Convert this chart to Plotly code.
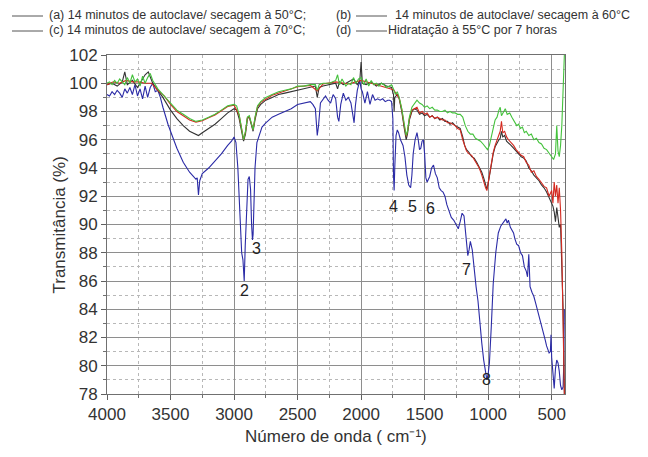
import plotly.graph_objects as go

# ---- Spectra: wavenumber (cm-1) and transmittance (%) ----
wn_d = [4000, 3980, 3960, 3940, 3920, 3900, 3880, 3860, 3840, 3820, 3800, 3780, 3760, 3740, 3720, 3700,
        3680, 3660, 3640, 3620, 3600, 3580, 3560, 3540, 3520, 3500, 3450, 3400, 3350, 3320, 3300, 3290,
        3280, 3270, 3250, 3200, 3150, 3100, 3050, 3020, 3000, 2985, 2970, 2955, 2940, 2930, 2920, 2912,
        2900, 2890, 2880, 2870, 2862, 2855, 2850, 2845, 2835, 2820, 2800, 2780, 2750, 2700, 2650, 2600,
        2550, 2500, 2450, 2400, 2380, 2360, 2345, 2335, 2320, 2300, 2280, 2260, 2240, 2220, 2200, 2185,
        2175, 2160, 2140, 2120, 2100, 2080, 2065, 2055, 2045, 2030, 2010, 2000, 1990, 1970, 1950, 1930,
        1910, 1890, 1870, 1850, 1830, 1810, 1790, 1775, 1760, 1750, 1745, 1740, 1735, 1725, 1715, 1705,
        1690, 1670, 1655, 1640, 1625, 1610, 1600, 1590, 1575, 1560, 1550, 1540, 1530, 1520, 1510, 1500,
        1490, 1480, 1470, 1460, 1445, 1430, 1415, 1400, 1385, 1370, 1355, 1340, 1325, 1310, 1290, 1270,
        1250, 1235, 1220, 1205, 1190, 1175, 1160, 1150, 1140, 1125, 1110, 1095, 1080, 1065, 1050, 1035,
        1020, 1010, 1000, 990, 975, 960, 940, 920, 900, 880, 860, 850, 840, 825, 810, 800,
        790, 775, 760, 745, 730, 715, 700, 690, 680, 670, 655, 640, 625, 610, 595, 580,
        565, 550, 540, 530, 520, 510, 505, 500, 490, 480, 470, 460, 450, 440, 430, 420,
        410, 405, 400]
tr_d = [99.2, 99.1, 99.4, 99.2, 99.5, 99.3, 99.0, 99.6, 99.3, 99.7, 99.2, 99.9, 99.1, 99.6, 98.9, 99.8,
        99.0, 99.7, 100.0, 99.4, 99.5, 99.0, 98.3, 97.6, 97.1, 96.6, 95.4, 94.4, 93.7, 93.4, 93.2, 93.3,
        92.1, 93.1, 93.6, 94.0, 94.5, 95.0, 95.6, 95.9, 96.2, 95.8, 94.0, 90.5, 88.0, 87.5, 86.0, 88.5,
        91.5, 93.2, 93.4, 92.5, 90.0, 88.9, 89.3, 91.0, 94.0, 95.8, 96.4, 96.9, 97.2, 97.6, 97.8, 98.0,
        98.2, 98.5, 98.6, 98.7, 98.5, 98.2, 96.3, 97.0, 98.6, 98.9, 99.1, 98.8, 98.6, 99.2, 98.9, 97.6,
        97.3, 98.5, 99.3, 98.8, 99.0, 98.6, 97.9, 97.2, 98.4, 99.5, 100.2, 99.6, 99.4, 98.6, 99.4, 98.5,
        99.2, 98.8, 98.9, 98.8, 98.9, 98.7, 98.8, 98.8, 98.7, 97.5, 93.5, 92.4, 94.0, 96.3, 96.7, 96.5,
        96.0, 95.6, 94.8, 93.5, 92.8, 92.6, 93.5, 95.0, 96.0, 96.5, 96.0, 95.3, 95.4, 95.9, 96.0, 95.0,
        93.3, 93.0, 93.2, 93.4, 94.0, 94.2, 93.6, 93.3, 92.6, 92.4, 92.3, 92.0, 91.4, 91.0, 90.5, 90.3,
        89.9, 89.7, 90.2, 90.8, 90.6, 89.0, 87.8, 88.2, 88.8, 88.2, 86.8, 85.6, 84.6, 82.8, 81.6, 80.4,
        79.6, 79.0, 79.4, 80.2, 82.8, 85.8, 88.0, 89.4, 89.9, 90.2, 90.4, 90.1, 90.3, 89.8, 89.5, 89.4,
        89.0, 88.6, 88.5, 88.0, 87.8, 87.0, 86.7, 86.3, 87.9, 85.6, 85.2, 84.9, 84.4, 83.9, 83.4, 83.0,
        82.4, 81.8, 81.4, 81.2, 80.9, 81.0, 82.2, 80.6, 79.6, 78.4, 79.8, 80.4, 80.2, 79.6, 78.6, 78.3,
        78.5, 80.0, 84.0]

wn_a = [4000, 3960, 3920, 3880, 3860, 3840, 3800, 3760, 3720, 3700, 3675, 3640, 3600, 3560, 3520, 3500,
        3450, 3400, 3350, 3300, 3280, 3250, 3200, 3150, 3100, 3050, 3000, 2980, 2960, 2940, 2925, 2910,
        2895, 2880, 2865, 2850, 2835, 2815, 2790, 2750, 2700, 2650, 2600, 2550, 2500, 2450, 2400, 2360,
        2345, 2330, 2300, 2250, 2200, 2185, 2170, 2140, 2100, 2060, 2030, 2010, 2000, 1990, 1960, 1920,
        1880, 1840, 1800, 1760, 1745, 1740, 1735, 1715, 1700, 1680, 1660, 1645, 1635, 1620, 1600, 1580,
        1560, 1540, 1520, 1500, 1480, 1460, 1440, 1420, 1400, 1380, 1360, 1340, 1320, 1300, 1280, 1260,
        1240, 1220, 1200, 1185, 1170, 1150, 1130, 1110, 1090, 1070, 1050, 1035, 1020, 1010, 1000, 990,
        975, 960, 945, 930, 915, 905, 895, 885, 870, 855, 840, 820, 800, 780, 760, 740,
        720, 700, 680, 660, 640, 620, 600, 580, 560, 540, 520, 500, 490, 480, 470, 460,
        450, 440, 430, 420, 410, 405, 400]
tr_a = [99.9, 100.0, 99.8, 100.1, 100.8, 99.9, 100.2, 99.7, 100.3, 100.6, 100.8, 100.0, 99.5, 99.0, 98.4, 98.1,
        97.5, 97.0, 96.6, 96.4, 96.3, 96.5, 96.8, 97.1, 97.5, 97.9, 98.2, 98.1, 97.5, 96.5, 95.9, 96.4,
        97.5, 97.6, 97.0, 96.6, 97.4, 98.2, 98.5, 98.8, 99.0, 99.2, 99.3, 99.4, 99.5, 99.6, 99.7, 99.8,
        99.0, 99.7, 99.8, 99.9, 100.0, 99.6, 100.1, 99.9, 100.1, 100.3, 99.9, 100.2, 101.5, 100.0, 99.9, 100.1,
        99.8, 100.0, 99.8, 99.7, 99.2, 98.0, 99.0, 99.2, 98.9, 98.0, 96.8, 96.0, 96.4, 97.4, 98.0, 98.2,
        98.1, 97.8, 97.9, 97.7, 97.8, 97.6, 97.7, 97.5, 97.6, 97.4, 97.5, 97.3, 97.3, 97.1, 97.2, 97.0,
        96.9, 96.8, 96.2, 95.6, 95.3, 95.1, 94.8, 94.7, 94.4, 94.1, 93.7, 93.3, 92.7, 92.5, 92.9, 93.5,
        94.3, 95.0, 95.5, 95.8, 96.0, 96.1, 96.6, 96.2, 96.3, 95.9, 95.8, 95.6, 95.4, 95.2, 95.0, 94.8,
        94.7, 94.5, 94.0, 93.8, 93.5, 93.3, 93.1, 92.8, 92.6, 92.3, 91.9, 91.6, 91.3, 90.9, 90.2, 91.2,
        90.4, 89.8, 90.0, 87.5, 84.0, 81.0, 78.0]

wn_b = [4000, 3950, 3900, 3850, 3800, 3750, 3700, 3650, 3600, 3550, 3500, 3450, 3400, 3350, 3300, 3250,
        3200, 3150, 3100, 3050, 3000, 2960, 2940, 2925, 2910, 2895, 2880, 2865, 2850, 2835, 2815, 2790,
        2700, 2600, 2500, 2400, 2345, 2300, 2200, 2100, 2000, 1900, 1800, 1745, 1700, 1680, 1660, 1645,
        1635, 1620, 1600, 1580, 1560, 1540, 1520, 1500, 1480, 1460, 1440, 1420, 1400, 1380, 1360, 1340,
        1320, 1300, 1280, 1260, 1240, 1220, 1200, 1185, 1170, 1150, 1130, 1110, 1090, 1070, 1050, 1035,
        1020, 1010, 1000, 990, 975, 960, 945, 930, 915, 905, 895, 885, 870, 855, 840, 820,
        800, 780, 760, 740, 720, 700, 680, 660, 640, 620, 600, 580, 560, 540, 520, 500,
        490, 480, 470, 460, 450, 440, 430, 420, 410, 405, 400]
tr_b = [99.9, 100.1, 100.0, 100.2, 100.1, 100.1, 100.0, 100.0, 99.5, 99.1, 98.5, 98.0, 97.7, 97.4, 97.25, 97.35,
        97.55, 97.75, 98.05, 98.35, 98.45, 97.75, 96.75, 96.0, 96.55, 97.55, 97.65, 97.15, 96.7, 97.55, 98.35, 98.65,
        99.15, 99.45, 99.75, 99.85, 99.45, 99.95, 100.1, 99.95, 100.2, 99.95, 99.7, 99.55, 98.95, 98.15, 96.95, 96.25,
        96.55, 97.5, 98.1, 98.2, 98.3, 97.9, 98.0, 97.8, 97.9, 97.6, 97.7, 97.5, 97.6, 97.5, 97.4, 97.4,
        97.2, 97.2, 97.1, 97.0, 96.8, 96.7, 96.0, 95.5, 95.2, 95.0, 94.9, 94.6, 94.3, 94.0, 93.5, 93.0,
        92.6, 92.4, 93.0, 93.6, 94.4, 95.1, 95.6, 96.0, 96.3, 96.6, 97.3, 96.5, 96.6, 96.2, 96.0, 95.8,
        95.6, 95.3, 95.1, 94.9, 94.8, 94.4, 94.2, 93.7, 93.8, 93.4, 93.2, 92.9, 92.7, 92.6, 92.0, 92.4,
        91.5, 93.0, 92.0, 92.8, 91.5, 92.6, 91.0, 88.0, 84.0, 80.0, 78.0]

wn_c = [4000, 3980, 3960, 3940, 3920, 3900, 3880, 3860, 3840, 3820, 3800, 3780, 3760, 3740, 3720, 3700,
        3680, 3660, 3640, 3620, 3600, 3560, 3520, 3500, 3450, 3400, 3350, 3300, 3250, 3200, 3150, 3100,
        3050, 3000, 2980, 2960, 2940, 2925, 2910, 2895, 2880, 2865, 2850, 2835, 2815, 2790, 2750, 2700,
        2650, 2600, 2550, 2500, 2450, 2400, 2360, 2345, 2330, 2300, 2250, 2200, 2185, 2170, 2150, 2120,
        2100, 2080, 2060, 2040, 2020, 2000, 1980, 1960, 1940, 1920, 1900, 1880, 1860, 1840, 1820, 1800,
        1780, 1760, 1745, 1730, 1715, 1700, 1680, 1660, 1645, 1635, 1620, 1600, 1580, 1560, 1540, 1520,
        1500, 1480, 1460, 1440, 1420, 1400, 1380, 1360, 1340, 1320, 1300, 1280, 1260, 1240, 1220, 1200,
        1180, 1160, 1140, 1120, 1100, 1080, 1060, 1040, 1020, 1005, 990, 975, 960, 945, 930, 915,
        905, 895, 880, 865, 850, 830, 813, 795, 775, 760, 745, 730, 715, 700, 680, 660,
        640, 620, 600, 580, 560, 540, 520, 500, 485, 470, 460, 450, 440, 430, 420, 410,
        405, 400]
tr_c = [100.0, 100.1, 99.9, 100.2, 100.0, 100.3, 100.1, 99.9, 100.4, 100.0, 100.6, 100.1, 100.3, 99.8, 100.5, 100.0,
        100.4, 100.7, 100.2, 99.9, 99.6, 99.2, 98.8, 98.6, 98.1, 97.8, 97.5, 97.3, 97.4, 97.6, 97.8, 98.1,
        98.4, 98.5, 98.4, 97.8, 96.8, 96.0, 96.6, 97.6, 97.7, 97.2, 96.7, 97.6, 98.4, 98.7, 99.0, 99.2,
        99.4, 99.5, 99.6, 99.8, 99.8, 99.9, 99.9, 99.5, 99.9, 100.0, 100.0, 100.2, 100.6, 99.9, 100.3, 99.8,
        100.0, 99.9, 100.4, 100.0, 100.3, 100.4, 99.9, 100.3, 99.8, 100.2, 99.9, 100.0, 99.8, 100.0, 99.9, 99.7,
        99.8, 99.9, 99.6, 99.2, 99.4, 99.0, 98.2, 97.0, 96.3, 96.6, 97.6, 98.3, 98.6, 98.8, 98.6, 98.5,
        98.3, 98.4, 98.2, 98.3, 98.1, 98.1, 98.0, 98.0, 98.1, 97.9, 98.0, 97.9, 97.9, 97.8, 97.8, 97.6,
        97.0, 96.6, 96.4, 96.4, 96.1, 96.0, 95.9, 95.7, 95.5, 95.3, 95.6, 96.3, 96.8, 97.4, 97.6, 98.1,
        98.3, 97.7, 98.0, 98.2, 97.8, 97.9, 97.6, 97.3, 97.0, 97.1, 96.8, 96.9, 96.5, 96.6, 96.3, 96.4,
        96.0, 96.1, 95.8, 95.7, 95.4, 95.3, 95.0, 94.8, 94.6, 95.0, 97.0, 95.2, 94.8, 95.6, 97.0, 99.5,
        101.0, 102.0]

# Numbered band labels
band_labels = ["2", "3", "4", "5", "6", "7", "8"]
band_wn = [2918, 2825, 1745, 1596, 1456, 1173, 1010]
band_tr = [85.3, 88.3, 91.3, 91.3, 91.1, 86.8, 79.0]

legend_rows = [
    ("(a) 14 minutos de autoclave/ secagem à 50°C;", "(b)", "14 minutos de autoclave/ secagem à 60°C"),
    ("(c) 14 minutos de autoclave/ secagem à 70°C;", "(d)", "Hidratação à 55°C por 7 horas"),
]

x_ticks = [4000, 3500, 3000, 2500, 2000, 1500, 1000, 500]
y_ticks = list(range(78, 103, 2))

# ---- Layout geometry (pixels) ----
W, H = 648, 457
L, R, T, B = 107, 83, 55, 63
PW, PH = W - L - R, H - T - B


def px_x(px):
    return (px - L) / PW


def px_y(py):
    return (H - B - py) / PH


FONT = "Liberation Sans, Arial, sans-serif"
LEG_FONT = dict(family=FONT, size=12.5, color="#333333")

fig = go.Figure()
series = [
    (wn_d, tr_d, "#2b2ba6", 1.1),
    (wn_a, tr_a, "#333333", 1.1),
    (wn_b, tr_b, "#d42a20", 1.1),
    (wn_c, tr_c, "#44c23c", 1.1),
]
for xs, ys, col, w in series:
    fig.add_trace(go.Scatter(x=xs, y=ys, mode="lines", line=dict(color=col, width=w),
                             showlegend=False, hoverinfo="skip"))

annotations = []
for lab, xv, yv in zip(band_labels, band_wn, band_tr):
    annotations.append(dict(x=xv, y=yv, text=lab, showarrow=False, xref="x", yref="y",
                            font=dict(family=FONT, size=16, color="#222222")))

shapes = []
row_y = [15, 30]
for (t1, t2, t3), ry in zip(legend_rows, row_y):
    common = dict(xref="paper", yref="paper", showarrow=False, xanchor="left",
                  yanchor="middle", font=LEG_FONT, borderpad=0)
    annotations.append(dict(x=px_x(48), y=px_y(ry), text=t1, **common))
    annotations.append(dict(x=px_x(335), y=px_y(ry), text=t2, **common))
    annotations.append(dict(x=px_x(394 if t3.startswith("14") else 387), y=px_y(ry), text=t3, **common))
    for x0, x1 in [(12, 43), (356, 387)]:
        shapes.append(dict(type="line", xref="paper", yref="paper", x0=px_x(x0), x1=px_x(x1),
                           y0=px_y(ry + 1), y1=px_y(ry + 1), line=dict(color="#555555", width=1)))

annotations.append(dict(x=px_x(336), y=px_y(447), xref="paper", yref="paper",
                        text="Número de onda ( cm⁻¹)", showarrow=False, borderpad=0,
                        font=dict(family=FONT, size=17, color="#333333")))
annotations.append(dict(x=px_x(47), y=px_y(225), xref="paper", yref="paper",
                        text="Transmitância (%)", showarrow=False, textangle=-90,
                        font=dict(family=FONT, size=17, color="#333333")))

axis_common = dict(
    showline=True, linecolor="#707070", linewidth=1, mirror=True,
    showgrid=True, gridcolor="#8e8e8e", gridwidth=1,
    ticks="outside", ticklen=5, tickcolor="#606060", zeroline=False,
)

fig.update_layout(
    width=W, height=H,
    margin=dict(l=L, r=R, t=T, b=B),
    paper_bgcolor="white", plot_bgcolor="white",
    xaxis=dict(range=[4000, 395], tickvals=x_ticks, ticktext=[str(v) for v in x_ticks],
               tickfont=dict(family=FONT, size=17, color="#333333"),
               minor=dict(tickvals=[3750, 3250, 2750, 2250, 1750, 1250, 750], showgrid=True,
                          gridcolor="#b8b8b8", griddash="dot", gridwidth=1,
                          ticks="outside", ticklen=3, tickcolor="#707070"),
               **axis_common),
    yaxis=dict(range=[78, 102], tickvals=y_ticks, ticktext=[str(v) for v in y_ticks],
               tickfont=dict(family=FONT, size=17, color="#333333"),
               minor=dict(tickvals=list(range(79, 102, 2)), showgrid=True,
                          gridcolor="#b8b8b8", griddash="dot", gridwidth=1,
                          ticks="outside", ticklen=3, tickcolor="#707070"),
               **axis_common),
    annotations=annotations,
    shapes=shapes,
)

fig.write_html("out.html")
